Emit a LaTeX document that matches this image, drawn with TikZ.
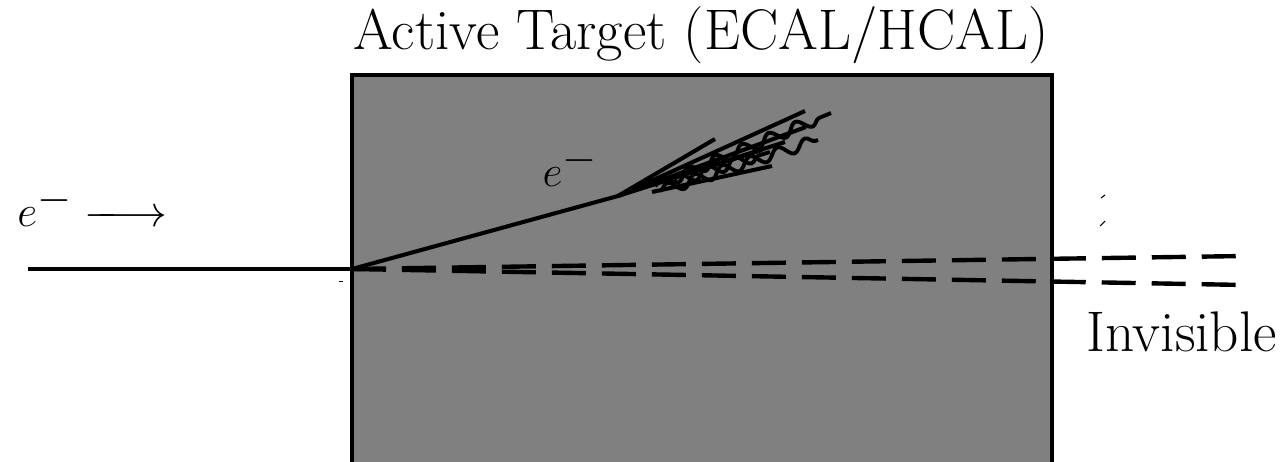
\documentclass[tikz,border=0pt]{standalone}
\usetikzlibrary{decorations.pathmorphing}
\begin{document}
\begin{tikzpicture}[x=0.02cm,y=-0.02cm,
  track/.style={line width=2.3pt},
  invis/.style={line width=2.5pt,dash pattern=on 0.68cm off 0.32cm},
  photon/.style={line width=2.2pt,decorate,decoration={snake,amplitude=0.11cm,segment length=0.58cm}},
  lbl/.style={inner sep=0pt,font=\fontsize{32.6}{39}\selectfont}]
\useasboundingbox (0,0) rectangle (1282,462);
% calorimeter block, open at the bottom
\fill[black!50] (352,475) rectangle (1052,75);
\draw[line width=2.4pt] (352,475) -- (352,75) -- (1052,75) -- (1052,475);
\node[lbl,anchor=base] (title) at (701,50) {Active Target (ECAL/HCAL)};
% incoming beam electron
\coordinate (start) at (28,269);
\coordinate (vtx) at (352,269);
\node[lbl,anchor=base west] (beam) at (17,227)
  {$e^-\mathrel{\relbar\mkern-9mu\relbar\joinrel\rightarrow}$};
\draw[track] (start) -- (vtx);
% recoil electron and its shower
\coordinate (sh) at (618,196);
\draw[track] (vtx) -- (sh);
\node[lbl,anchor=base] (recoil) at (570,187) {$e^-$};
\coordinate (t1) at (805,111);
\coordinate (t2) at (715,139);
\coordinate (t3) at (806,127);
\coordinate (t4) at (772,166);
\coordinate (t5) at (762,150);
\coordinate (t6) at (785,142);
\coordinate (b4) at (652,192);
\coordinate (b6) at (648,186);
\draw[track] (sh) -- (t1);
\draw[track] (sh) -- (t2);
\draw[track] (sh) -- (t3);
\draw[track] (sh) -- (t5);
\draw[track] (b4) -- (t4);
\draw[track] (b6) -- (t6);
\coordinate (p1s) at (655,186);
\coordinate (p1e) at (831,113);
\coordinate (p2s) at (660,191);
\coordinate (p2e) at (818,140);
\coordinate (p3s) at (672,182);
\coordinate (p3e) at (770,152);
\draw[photon] (p1s) -- (p1e);
\draw[photon] (p2s) -- (p2e);
\draw[photon] (p3s) -- (p3e);
% invisible products leaving the target
\coordinate (x1) at (1245,256);
\coordinate (x2) at (1245,285);
\draw[invis] (vtx) -- (x1);
\draw[invis] (vtx) -- (x2);
\node[lbl,anchor=base west] (inv) at (1086,352) {Invisible};
% small stray ticks
\coordinate (m1a) at (1101,198);
\coordinate (m1b) at (1105,195);
\coordinate (m2a) at (1100,226);
\coordinate (m2b) at (1105,221);
\coordinate (m3a) at (339,281);
\coordinate (m3b) at (343,281);
\draw[line width=0.6pt] (m1a) -- (m1b);
\draw[line width=0.6pt] (m2a) -- (m2b);
\draw[line width=0.4pt] (m3a) -- (m3b);
\end{tikzpicture}
\end{document}
